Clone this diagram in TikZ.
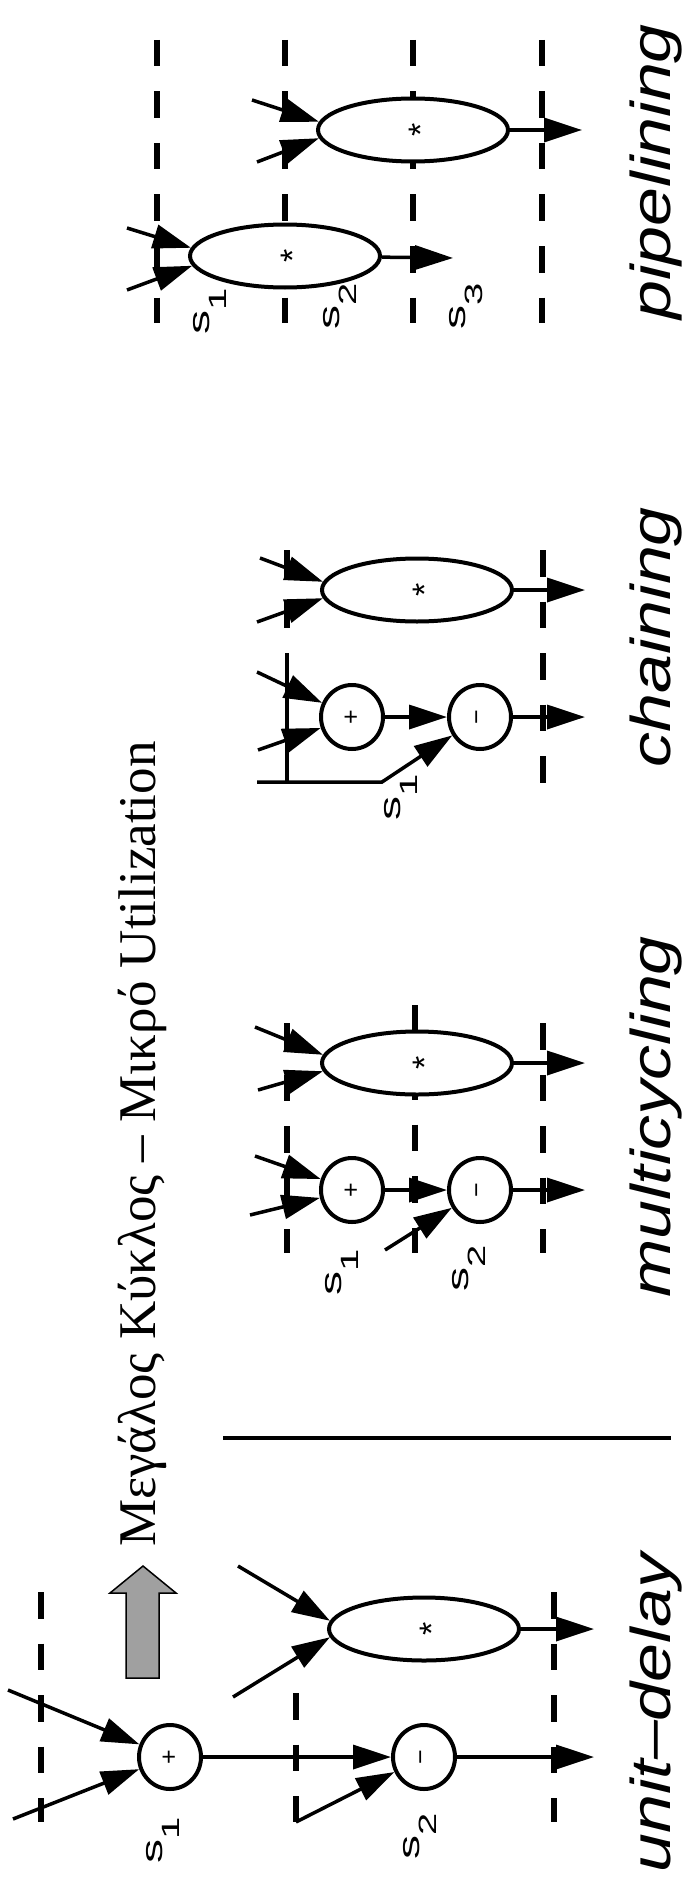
\documentclass[tikz,border=0pt]{standalone}
\usepackage{fontspec}
\setmainfont{Liberation Serif}
\setsansfont{Liberation Sans}
\usetikzlibrary{shapes.geometric,arrows.meta}
\newcommand{\astsym}{\raisebox{-0.58em}[0pt][0pt]{*}}
\begin{document}
\begin{tikzpicture}[x=1pt,y=-1pt,
  ln/.style={line width=3.5pt},
  arr/.style={line width=3.5pt,-{Triangle[length=38pt,width=24pt]}},
  dl/.style={line width=5.5pt,dash pattern=on 26.5pt off 25pt},
  circ/.style={ellipse,draw,line width=4pt,fill=white,minimum width=62pt,minimum height=64pt,inner sep=0pt,font=\fontsize{25}{25}\selectfont\sffamily},
  oval/.style={ellipse,draw,line width=4pt,fill=white,minimum width=190pt,minimum height=63pt,inner sep=0pt,font=\fontsize{34}{34}\selectfont\sffamily},
  lab/.style={rotate=90,inner sep=0pt,font=\fontsize{30}{30}\selectfont\sffamily},
  ttl/.style={rotate=90,anchor=base west,inner sep=0pt,font=\fontsize{56}{56}\selectfont\sffamily\itshape},
  hdr/.style={rotate=90,anchor=base west,inner sep=0pt,font=\fontsize{53}{53}\selectfont\rmfamily},
]
\useasboundingbox (0,0) rectangle (685,1889);

% ---------------- unit-delay ----------------
\draw[dl] (41,1592) -- (41,1822);
\draw[dl] (554,1592) -- (554,1822);
\draw[dl] (296,1693) -- (296,1822);
\node[circ] (u_p) at (170,1757) {\rotatebox{90}{+}};
\node[circ] (u_m) at (424,1757) {\rotatebox{90}{−}};
\node[oval] (u_x) at (424,1629) {\rotatebox{90}{\astsym}};
\coordinate (u_i1) at (8,1690);
\coordinate (u_i2) at (13,1819);
\coordinate (u_i3) at (296,1822);
\coordinate (u_i4) at (238,1566);
\coordinate (u_i5) at (233,1697);
\coordinate (u_o1) at (594,1757);
\coordinate (u_o2) at (594,1629);
\draw[arr] (u_i1) -- (u_p);
\draw[arr] (u_i2) -- (u_p);
\draw[arr] (u_p) -- (u_m);
\draw[arr] (u_i3) -- (u_m);
\draw[arr] (u_m) -- (u_o1);
\draw[arr] (u_i4) -- (u_x.175);
\draw[arr] (u_i5) -- (u_x.185);
\draw[arr] (u_x) -- (u_o2);
\node[lab] (u_s1) at (163,1840) {\scalebox{1.6}[1]{s\raisebox{-17pt}{\fontsize{25}{25}\selectfont 1}}};
\node[lab] (u_s2) at (420,1836) {\scalebox{1.6}[1]{s\raisebox{-17pt}{\fontsize{25}{25}\selectfont 2}}};
\node[ttl] (u_t) at (670,1873) {\scalebox{1.25}[1]{unit–delay}};

% big arrow, title, separator
\draw[line width=1.5pt,fill={rgb,255:red,160;green,160;blue,160}]
  (126,1678) -- (126,1593) -- (110,1593) -- (143,1566) -- (176,1593) -- (159,1593) -- (159,1678) -- cycle;
\node[hdr] (title) at (155,1547) {Μεγάλος Κύκλος – Μικρό Utilization};
\coordinate (sep_a) at (223,1438);
\coordinate (sep_b) at (671,1438);
\draw[ln] (sep_a) -- (sep_b);

% ---------------- multicycling ----------------
\draw[dl] (287,1023) -- (287,1253);
\draw[dl] (543,1023) -- (543,1253);
\draw[dl] (415,1005) -- (415,1031);
\draw[dl] (415,1073) -- (415,1253);
\node[oval] (m_x) at (417,1063) {\rotatebox{90}{\astsym}};
\node[circ] (m_p) at (352,1190) {\rotatebox{90}{+}};
\node[circ] (m_m) at (480,1190) {\rotatebox{90}{−}};
\coordinate (m_i1) at (255,1027);
\coordinate (m_i2) at (258,1090);
\coordinate (m_i3) at (255,1156);
\coordinate (m_i4) at (250,1215);
\coordinate (m_i5) at (385,1250);
\coordinate (m_o1) at (585,1063);
\coordinate (m_o2) at (585,1190);
\draw[arr] (m_i1) -- (m_x.175);
\draw[arr] (m_i2) -- (m_x.185);
\draw[arr] (m_x) -- (m_o1);
\draw[arr] (m_i3) -- (m_p);
\draw[arr] (m_i4) -- (m_p);
\draw[arr] (m_p) -- (m_m);
\draw[arr] (m_i5) -- (m_m);
\draw[arr] (m_m) -- (m_o2);
\node[lab] (m_s1) at (342,1272) {\scalebox{1.6}[1]{s\raisebox{-17pt}{\fontsize{25}{25}\selectfont 1}}};
\node[lab] (m_s2) at (469,1268) {\scalebox{1.6}[1]{s\raisebox{-17pt}{\fontsize{25}{25}\selectfont 2}}};
\node[ttl] (m_t) at (670,1298) {\scalebox{1.25}[1]{multicycling}};

% ---------------- chaining ----------------
\draw[dl] (287,550) -- (287,630);
\draw[dl] (543,550) -- (543,785);
\coordinate (c_t) at (287,653);
\coordinate (c_b) at (287,782);
\draw[ln] (c_t) -- (c_b);
\node[oval] (c_x) at (417,590) {\rotatebox{90}{\astsym}};
\node[circ] (c_p) at (352,717) {\rotatebox{90}{+}};
\node[circ] (c_m) at (480,717) {\rotatebox{90}{−}};
\coordinate (c_i1) at (260,558);
\coordinate (c_i2) at (257,622);
\coordinate (c_i3) at (257,672);
\coordinate (c_i4) at (258,750);
\coordinate (c_h0) at (257,782);
\coordinate (c_h1) at (382,782);
\coordinate (c_o1) at (585,590);
\coordinate (c_o2) at (585,717);
\draw[arr] (c_i1) -- (c_x.175);
\draw[arr] (c_i2) -- (c_x.185);
\draw[arr] (c_x) -- (c_o1);
\draw[arr] (c_i3) -- (c_p);
\draw[arr] (c_i4) -- (c_p);
\draw[arr] (c_p) -- (c_m);
\draw[arr] (c_h0) -- (c_h1) -- (c_m);
\draw[arr] (c_m) -- (c_o2);
\node[lab] (c_s1) at (401,797) {\scalebox{1.6}[1]{s\raisebox{-17pt}{\fontsize{25}{25}\selectfont 1}}};
\node[ttl] (c_t2) at (670,768) {\scalebox{1.25}[1]{chaining}};

% ---------------- pipelining ----------------
\draw[dl] (157,40) -- (157,323);
\draw[dl] (285,40) -- (285,323);
\draw[dl] (413,40) -- (413,323);
\draw[dl] (542,40) -- (542,323);
\node[oval] (p_x1) at (285,256) {\rotatebox{90}{\astsym}};
\node[oval] (p_x2) at (413,130) {\rotatebox{90}{\astsym}};
\coordinate (p_i1) at (127,228);
\coordinate (p_i2) at (127,290);
\coordinate (p_i3) at (252,100);
\coordinate (p_i4) at (257,162);
\coordinate (p_o1) at (453,258);
\coordinate (p_o2) at (582,130);
\draw[arr] (p_i1) -- (p_x1.175);
\draw[arr] (p_i2) -- (p_x1.186);
\draw[arr] (p_x1) -- (p_o1);
\draw[arr] (p_i3) -- (p_x2.175);
\draw[arr] (p_i4) -- (p_x2.185);
\draw[arr] (p_x2) -- (p_o2);
\node[lab] (p_s1) at (210,311) {\scalebox{1.6}[1]{s\raisebox{-17pt}{\fontsize{25}{25}\selectfont 1}}};
\node[lab] (p_s2) at (340,306) {\scalebox{1.6}[1]{s\raisebox{-17pt}{\fontsize{25}{25}\selectfont 2}}};
\node[lab] (p_s3) at (466,306) {\scalebox{1.6}[1]{s\raisebox{-17pt}{\fontsize{25}{25}\selectfont 3}}};
\node[ttl] (p_t) at (670,320) {\scalebox{1.25}[1]{pipelining}};
\end{tikzpicture}
\end{document}
